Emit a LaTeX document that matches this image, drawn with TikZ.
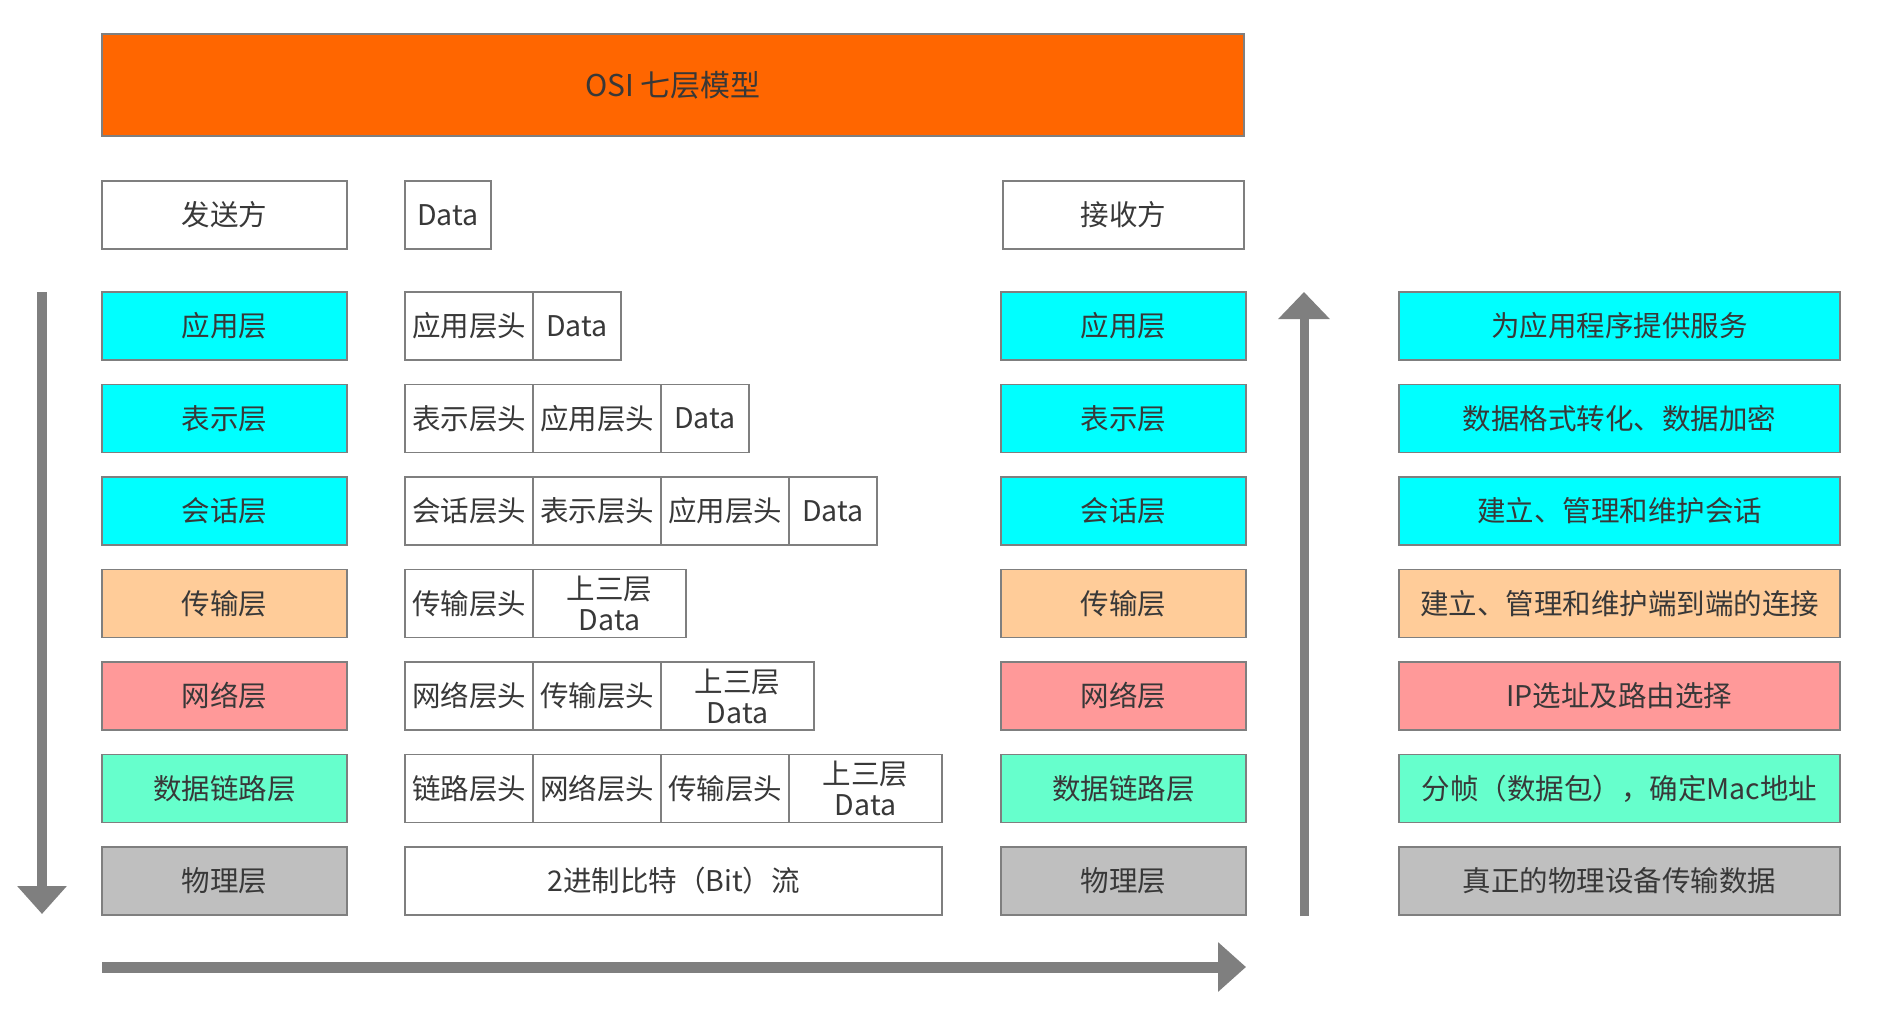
\documentclass[tikz,border=0pt]{standalone}
\usepackage{fontspec}
\setmainfont{Noto Sans CJK SC}
\usetikzlibrary{arrows.meta}
\definecolor{titleor}{HTML}{FF6600}
\definecolor{cyanL}{HTML}{00FFFF}
\definecolor{peach}{HTML}{FFCC99}
\definecolor{pinkL}{HTML}{FF9999}
\definecolor{mint}{HTML}{66FFCC}
\definecolor{silverL}{HTML}{BFBFBF}
\definecolor{boxline}{HTML}{7F7F7F}
\definecolor{arrowg}{HTML}{7F7F7F}
\definecolor{txt}{HTML}{383838}
\begin{document}
\begin{tikzpicture}[x=1pt,y=-1pt,
  box/.style={draw=boxline, line width=1.5pt, inner sep=0pt, outer sep=0pt,
    minimum height=68pt, text=txt, font=\fontsize{28.5}{31}\selectfont, align=center},
  lay/.style={box, minimum width=245pt},
  desc/.style={box, minimum width=441pt},
  hd/.style={box, minimum width=128pt},
  dat/.style={box, minimum width=88pt},
  up3/.style={box, minimum width=153pt},
  bigarrow/.style={draw=arrowg, line width=10pt, -{Triangle[width=48pt,length=28pt]}, arrowg}
]
\useasboundingbox[fill=white] (0,0) rectangle (1884,1014);

% title
\node[box, fill=titleor, minimum width=1142pt, minimum height=102pt, text=txt, font=\fontsize{30}{33}\selectfont] (title) at (673,85) {OSI 七层模型};

% header row
\node[lay] (sender) at (224.5,215) {发送方};
\node[dat, minimum width=86pt] (data0) at (448,215) {Data};
\node[box, minimum width=241pt] (receiver) at (1123.5,215) {接收方};

% left layer column
\node[lay, fill=cyanL]  (l1) at (224.5,326)   {应用层};
\node[lay, fill=cyanL]  (l2) at (224.5,418.5) {表示层};
\node[lay, fill=cyanL]  (l3) at (224.5,511)   {会话层};
\node[lay, fill=peach]  (l4) at (224.5,603.5) {传输层};
\node[lay, fill=pinkL]  (l5) at (224.5,696)   {网络层};
\node[lay, fill=mint]   (l6) at (224.5,788.5) {数据链路层};
\node[lay, fill=silverL](l7) at (224.5,881)   {物理层};

% right layer column
\node[lay, fill=cyanL]  (r1) at (1123.5,326)   {应用层};
\node[lay, fill=cyanL]  (r2) at (1123.5,418.5) {表示层};
\node[lay, fill=cyanL]  (r3) at (1123.5,511)   {会话层};
\node[lay, fill=peach]  (r4) at (1123.5,603.5) {传输层};
\node[lay, fill=pinkL]  (r5) at (1123.5,696)   {网络层};
\node[lay, fill=mint]   (r6) at (1123.5,788.5) {数据链路层};
\node[lay, fill=silverL](r7) at (1123.5,881)   {物理层};

% descriptions
\node[desc, fill=cyanL]  (d1) at (1619.5,326)   {为应用程序提供服务};
\node[desc, fill=cyanL]  (d2) at (1619.5,418.5) {数据格式转化、数据加密};
\node[desc, fill=cyanL]  (d3) at (1619.5,511)   {建立、管理和维护会话};
\node[desc, fill=peach]  (d4) at (1619.5,603.5) {建立、管理和维护端到端的连接};
\node[desc, fill=pinkL]  (d5) at (1619.5,696)   {IP选址及路由选择};
\node[desc, fill=mint]   (d6) at (1619.5,788.5) {分帧（数据包），确定Mac地址};
\node[desc, fill=silverL](d7) at (1619.5,881)   {真正的物理设备传输数据};

% encapsulation cells
\node[hd]  (m1a) at (469,326) {应用层头};
\node[dat] (m1b) at (577,326) {Data};

\node[hd]  (m2a) at (469,418.5) {表示层头};
\node[hd]  (m2b) at (597,418.5) {应用层头};
\node[dat] (m2c) at (705,418.5) {Data};

\node[hd]  (m3a) at (469,511) {会话层头};
\node[hd]  (m3b) at (597,511) {表示层头};
\node[hd]  (m3c) at (725,511) {应用层头};
\node[dat] (m3d) at (833,511) {Data};

\node[hd]  (m4a) at (469,603.5) {传输层头};
\node[up3] (m4b) at (609.5,603.5) {上三层\\Data};

\node[hd]  (m5a) at (469,696) {网络层头};
\node[hd]  (m5b) at (597,696) {传输层头};
\node[up3] (m5c) at (737.5,696) {上三层\\Data};

\node[hd]  (m6a) at (469,788.5) {链路层头};
\node[hd]  (m6b) at (597,788.5) {网络层头};
\node[hd]  (m6c) at (725,788.5) {传输层头};
\node[up3] (m6d) at (865.5,788.5) {上三层\\Data};

\node[box, minimum width=537pt] (m7) at (673.5,881) {2进制比特（Bit）流};

% arrows
\coordinate (la0) at (42,292);
\coordinate (la1) at (42,914);
\draw[bigarrow] (la0) -- (la1);

\coordinate (ua0) at (1304,916);
\coordinate (ua1) at (1304,292);
\draw[bigarrow, line width=9pt, -{Triangle[width=50pt,length=27pt]}] (ua0) -- (ua1);

\coordinate (ba0) at (102,967);
\coordinate (ba1) at (1246,967);
\draw[bigarrow, line width=11pt] (ba0) -- (ba1);
\end{tikzpicture}
\end{document}
